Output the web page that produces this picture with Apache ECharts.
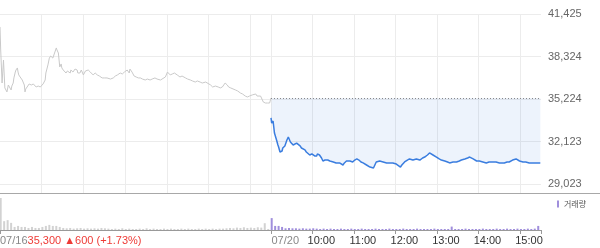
<!DOCTYPE html>
<html><head><meta charset="utf-8">
<script src="https://cdn.jsdelivr.net/npm/echarts@6/dist/echarts.min.js"></script>
<style>html,body{margin:0;padding:0;background:#fff}#c{width:600px;height:248px}</style>
</head><body><div id="c"></div>
<script>
// ---------- data ----------
const yTickMin = 29023, yTickMax = 41425, yTickSplits = 4;
const prevClose = 35300;
const headerPrice = '35,300', headerChange = '600', headerPct = '+1.73%';
const day1Label = '07/16';
const day2Labels = ['07/20', '10:00', '11:00', '12:00', '13:00', '14:00', '15:00'];
const sessionMinutes = 390;       // 09:00 - 15:30
const labelStepMinutes = 60;
const volumeBinMinutes = 5;
const volumeName = '거래량';

const day1Minutes = [0,1,3,5,7,10,12,13,14,16,17,19,20,22,23,25,26,27,29,32,35,36,37,39,42,43,45,46,48,50,52,55,58,59,62,63,65,66,68,69,71,72,73,75,76,78,79,81,82,84,85,86,88,89,91,92,95,97,98,101,102,105,108,111,112,115,117,120,123,124,127,130,131,134,137,140,143,144,147,150,151,154,159,161,163,166,169,171,173,176,179,181,183,186,187,190,193,196,199,202,205,209,212,216,219,223,226,231,233,238,241,242,245,248,251,252,255,259,262,267,270,274,277,281,284,288,291,296,298,303,306,307,310,314,317,320,324,327,329,332,334,339,342,346,349,350,353,356,359,360,363,368,370,372,375,377,379,382,385,388,390];
const day1Prices = [40480,38800,36390,38070,36030,35740,36245,36100,36320,35880,36170,36390,36760,37190,37340,37490,37190,36980,36830,36610,36245,35740,35950,36100,36320,36460,36245,36100,36320,36245,36100,36170,36100,36030,36320,36390,36610,37120,36980,37710,38210,38070,38360,38430,38210,38290,38650,38950,38800,38580,38070,37560,37780,37490,37340,37410,37120,37270,37190,37120,37340,37190,37410,37340,37120,37120,37340,36980,37270,37190,37340,37190,37050,36980,37120,36980,36900,36830,36760,36760,36680,36760,36680,36760,36760,36900,36980,37050,37120,37050,37190,37270,37340,37120,37410,37190,36900,36830,36760,36760,36680,36610,36680,36610,36680,36760,36680,36610,36680,36830,37190,37120,36980,37050,37120,37190,36980,36830,36900,36760,36680,36610,36540,36460,36540,36460,36390,36460,36390,36250,36100,36030,36170,36100,36030,36100,36390,36250,36100,36030,35960,35880,35810,35660,35590,35520,35440,35370,35440,35440,35520,35590,35440,35520,35440,35370,35000,34930,34930,34930,35300];

const day2Minutes = [0,1,2,3,4,5,7,8,10,11,13,14,16,17,20,23,25,26,28,30,32,34,37,39,42,44,46,49,51,53,56,59,61,63,66,67,70,73,75,78,80,82,85,87,90,92,94,96,99,101,104,106,109,111,114,116,118,121,124,127,128,130,133,135,138,140,143,145,148,150,152,154,157,159,162,164,167,169,171,173,176,178,181,183,187,189,190,193,195,197,200,202,205,207,210,212,215,217,219,222,224,226,229,231,234,236,239,241,243,246,248,251,253,255,258,260,263,265,268,270,272,275,277,280,282,284,287,289,292,294,297,299,301,303,306,308,311,313,315,318,320,322,325,327,330,332,334,337,339,341,344,346,349,351,354,356,359,361,364,366,368,370,373,376,378,381,385,389];
const day2Prices = [33840,33470,33330,33620,33180,32740,32600,32230,31870,31720,31360,31290,31430,31650,31800,32230,32450,32310,32090,32230,31870,32010,32010,31870,31800,31650,31580,31510,31360,31290,31140,31220,31140,31070,31070,31220,31140,30920,30700,30770,30630,30770,30700,30770,30630,30630,30560,30630,30560,30480,30410,30560,30700,30630,30700,30630,30630,30770,30850,30770,30700,30630,30560,30480,30410,30340,30260,30260,30190,30410,30630,30700,30700,30630,30630,30630,30560,30560,30560,30560,30560,30480,30480,30410,30260,30410,30480,30630,30700,30770,30850,30770,30770,30850,30850,30770,30770,30850,30920,30990,31070,31140,31290,31220,31140,31070,30990,30920,30850,30770,30700,30700,30630,30630,30560,30630,30630,30700,30630,30700,30700,30770,30770,30850,30850,30920,30990,30920,30850,30770,30700,30700,30700,30700,30630,30630,30560,30630,30630,30630,30630,30630,30630,30560,30560,30560,30560,30560,30560,30630,30630,30700,30770,30770,30850,30770,30700,30700,30630,30630,30630,30560,30560,30560,30560,30560,30560,30560];

const day1Volume = [94,26,29,21,9,12,9,9,6,9, 6,6,9,12,15,12,12,9,6,5, 6,4,5,6,4,5,4,5,4,6, 5,4,3,4,3,5,3,4,3,3, 4,3,5,3,4,3,3,4,3,4, 3,3,4,3,4,3,3,4,3,4, 3,4,3,4,4,5,6,5,7,6, 8,6,7,6,8,7,20,3];
const day2Volume = [35,12,12,9,5,6,5,5,4,5, 4,4,5,4,3,4,3,4,3,3, 4,3,3,4,3,3,4,3,3,3, 4,3,3,3,4,3,3,3,4,3, 3,3,4,3,3,3,3,4,3,3, 3,3,10,3,3,3,4,3,3,3, 3,4,3,3,3,4,3,3,4,3, 3,4,3,3,4,3,4,12];
const volumeMax = 100;

// ---------- layout / style ----------
const plotTop = 14, tickSpanH = 170, mainH = 179;
const volTop = 196, volH = 34;
const day1Left = 0, day1W = 271, day2Left = 271, day2W = 270;
const gridColor = '#ececec';
const yExtMin = yTickMin - (mainH - tickSpanH) / tickSpanH * (yTickMax - yTickMin);
const font = 'Arial, "Liberation Sans", sans-serif';

const pair = (xs, ys) => xs.map((x, i) => [x, ys[i]]);
const volPairs = (vs) => vs.map((v, i) => [i * volumeBinMinutes + 1, v]);

const hidden = { show: false };
const grids = [
  { left: 0, top: plotTop, width: day1W + day2W, height: tickSpanH },   // 0 horizontal grid + labels
  { left: day1Left, top: plotTop, width: day1W, height: mainH },       // 1 day1 price
  { left: day2Left, top: plotTop, width: day2W, height: mainH },       // 2 day2 price
  { left: day1Left, top: volTop, width: day1W, height: volH },         // 3 day1 volume
  { left: day2Left, top: volTop, width: day2W, height: volH },         // 4 day2 volume
  { left: 0, right: 0, top: plotTop, height: mainH }                   // 5 separator frame
].map(g => Object.assign({ outerBoundsMode: 'none', containLabel: false, show: false }, g));

const xAxes = [
  { gridIndex: 0, type: 'value', min: 0, max: 1, show: false },
  { gridIndex: 1, type: 'value', min: 0, max: sessionMinutes, interval: labelStepMinutes,
    axisLine: hidden, axisTick: hidden, axisLabel: hidden,
    splitLine: { show: true, showMinLine: false, lineStyle: { color: gridColor, width: 1 } } },
  { gridIndex: 2, type: 'value', min: 0, max: sessionMinutes, interval: labelStepMinutes,
    axisLine: hidden, axisTick: hidden, axisLabel: hidden,
    splitLine: { show: true, showMaxLine: false, lineStyle: { color: gridColor, width: 1 } } },
  { gridIndex: 3, type: 'value', min: 0, max: sessionMinutes, interval: sessionMinutes,
    axisLine: { show: true, onZero: false, lineStyle: { color: '#999', width: 1 } },
    axisTick: { show: true, length: 4, lineStyle: { color: '#999' } },
    splitLine: hidden,
    axisLabel: { show: true, align: 'left', margin: 5, showMaxLabel: false, fontFamily: font,
      formatter: v => v === 0 ? `{d|${day1Label}}{r|${headerPrice} ▲${headerChange} (${headerPct})}` : '',
      rich: { d: { color: '#888', fontSize: 11, fontFamily: font },
              r: { color: '#ee3b36', fontSize: 11, fontFamily: font } } } },
  { gridIndex: 4, type: 'value', min: 0, max: sessionMinutes, interval: labelStepMinutes,
    axisLine: { show: true, onZero: false, lineStyle: { color: '#999', width: 1 } },
    axisTick: { show: true, length: 4, lineStyle: { color: '#999' } },
    splitLine: hidden,
    axisLabel: { show: true, align: 'center', margin: 5, fontFamily: font,
      formatter: v => {
        const i = Math.round(v / labelStepMinutes);
        if (v >= sessionMinutes || i >= day2Labels.length) return '';
        return i === 0 ? `{d|${day2Labels[0]}}` : `{h|${day2Labels[i]}}`;
      },
      rich: { d: { color: '#888', fontSize: 11, fontFamily: font, padding: [0, 0, 0, 28.5] },
              h: { color: '#333', fontSize: 11, fontFamily: font, padding: [0, 0, 0, 17.5] } } } },
  { gridIndex: 5, type: 'value', min: 0, max: 1,
    axisLine: { show: true, onZero: false, lineStyle: { color: '#a8a8a8', width: 1 } },
    axisTick: hidden, axisLabel: hidden, splitLine: hidden }
];

const yAxes = [
  { gridIndex: 0, type: 'value', position: 'right', min: yTickMin, max: yTickMax,
    interval: (yTickMax - yTickMin) / yTickSplits,
    axisLine: hidden, axisTick: hidden,
    splitLine: { show: true, lineStyle: { color: gridColor, width: 1 } },
    axisLabel: { show: true, margin: 7, color: '#666', fontSize: 11, fontFamily: font,
      formatter: v => Math.floor(v + 1e-6).toLocaleString('en-US') } },
  { gridIndex: 1, type: 'value', min: yExtMin, max: yTickMax, show: false },
  { gridIndex: 2, type: 'value', min: yExtMin, max: yTickMax, show: false },
  { gridIndex: 3, type: 'value', min: 0, max: volumeMax, show: false },
  { gridIndex: 4, type: 'value', min: 0, max: volumeMax, show: false },
  { gridIndex: 5, type: 'value', min: 0, max: 1, show: false }
];

const series = [
  { type: 'line', name: '07/16', xAxisIndex: 1, yAxisIndex: 1, data: pair(day1Minutes, day1Prices),
    symbol: 'none', silent: true, lineStyle: { color: '#c9c9c9', width: 1 }, z: 3 },
  { type: 'line', name: '07/20', xAxisIndex: 2, yAxisIndex: 2, data: pair(day2Minutes, day2Prices),
    symbol: 'none', silent: true, lineStyle: { color: '#3a7ddf', width: 1.5 }, z: 3,
    areaStyle: { color: 'rgba(60,120,220,0.13)', origin: prevClose },
    markLine: { silent: true, symbol: 'none', animation: false, label: { show: false },
      lineStyle: { color: '#8a8a8a', type: [1, 2], width: 1 },
      data: [{ yAxis: prevClose }] } },
  { type: 'bar', name: 'vol1', xAxisIndex: 3, yAxisIndex: 3, data: volPairs(day1Volume),
    barWidth: 2, silent: true, itemStyle: { color: '#d2d2d2' } },
  { type: 'bar', name: volumeName, xAxisIndex: 4, yAxisIndex: 4, data: volPairs(day2Volume),
    barWidth: 2, silent: true, itemStyle: { color: '#a08fdc' } }
];

const chart = echarts.init(document.getElementById('c'), null, { renderer: 'canvas' });
chart.setOption({
  animation: false,
  backgroundColor: '#fff',
  textStyle: { fontFamily: font },
  grid: grids,
  xAxis: xAxes,
  yAxis: yAxes,
  legend: { data: [volumeName], left: 557, top: 200, padding: 0, itemWidth: 2, itemHeight: 7,
    icon: 'rect', selectedMode: false,
    textStyle: { fontSize: 8, color: '#555', fontFamily: '"Noto Sans CJK KR", sans-serif' } },
  tooltip: { show: false },
  series
});
</script></body></html>
